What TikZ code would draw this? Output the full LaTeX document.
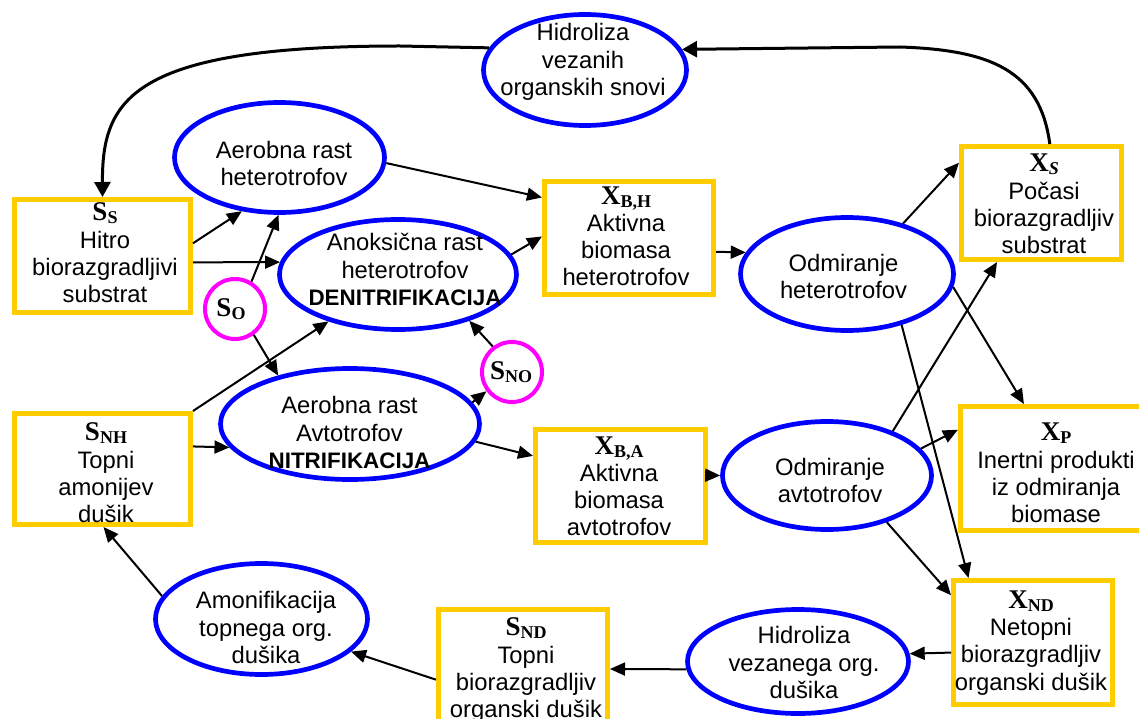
\documentclass[tikz,border=0pt]{standalone}
\usepackage{fontspec}
\setmainfont{Liberation Sans}
\newfontfamily\tmsfont{Liberation Serif}
\usetikzlibrary{arrows.meta,shapes.geometric}
\definecolor{ellblue}{RGB}{0,0,255}
\definecolor{boxgold}{RGB}{255,204,0}
\definecolor{circmag}{RGB}{255,0,255}
\newcommand{\lbl}[2]{{\tmsfont\bfseries\fontsize{27}{27.3}\selectfont #1\raisebox{-3pt}{\fontsize{18}{18}\selectfont #2}}}
\newcommand{\bld}[1]{{\bfseries\fontsize{22.4}{27.3}\selectfont #1}}
\tikzset{
  ell/.style={draw=ellblue, line width=4.7pt, ellipse, fill=white, inner sep=0pt},
  box/.style={draw=boxgold, line width=5pt, rectangle, fill=white, inner sep=0pt},
  circ/.style={draw=circmag, line width=4pt, circle, fill=white, inner sep=0pt, minimum size=60pt},
  txt/.style={inner sep=0pt, align=center, font=\fontsize{23.8}{27.3}\selectfont},
  arr/.style={-{Triangle[length=15pt,width=13pt]}, line width=2pt},
  curv/.style={-{Triangle[length=15pt,width=16pt]}, line width=3pt},
}
\begin{document}
\begin{tikzpicture}[x=1pt,y=-1pt]
\useasboundingbox (0,0) rectangle (1139,719);
\clip (0,0) rectangle (1139,719);
% ellipses
\node[ell, minimum width=203pt, minimum height=111pt] (hv) at (585,70) {};
\node[ell, minimum width=210pt, minimum height=110pt] (ah) at (279.5,157.5) {};
\node[ell, minimum width=237pt, minimum height=110pt] (an) at (398,274.5) {};
\node[ell, minimum width=259pt, minimum height=111pt] (aa) at (350,424) {};
\node[ell, minimum width=213pt, minimum height=113pt] (oh) at (847,274) {};
\node[ell, minimum width=209pt, minimum height=108pt] (oa) at (827,475.5) {};
\node[ell, minimum width=221pt, minimum height=104pt] (hg) at (798,661.5) {};
\node[ell, minimum width=212pt, minimum height=111pt] (am) at (261.5,619) {};
% boxes
\node[box, minimum width=176pt, minimum height=113pt] (ss) at (102.5,256) {};
\node[box, minimum width=176pt, minimum height=111pt] (snh) at (102.5,469) {};
\node[box, minimum width=169pt, minimum height=113pt] (xbh) at (629,238) {};
\node[box, minimum width=170pt, minimum height=113pt] (xba) at (620.5,486) {};
\node[box, minimum width=160pt, minimum height=113pt] (xs) at (1041.5,203) {};
\node[box, minimum width=187pt, minimum height=124pt] (xp) at (1054,468.5) {};
\node[box, minimum width=159pt, minimum height=124pt] (xnd) at (1033,642.5) {};
\node[box, minimum width=169pt, minimum height=119pt] (snd) at (523,669) {};
% circles
\node[circ] (so) at (235,309) {};
\node[circ] (sno) at (512,372) {};
% texts in ellipses
\node[txt] (thv) at (583,62.8) {\strut Hidroliza\\\strut vezanih\\\strut organskih snovi};
\node[txt] (tah) at (284,166.2) {\strut Aerobna rast\\\strut heterotrofov};
\node[txt] (tan) at (405,272.8) {\strut Anoksična rast\\\strut heterotrofov\\\strut\bld{DENITRIFIKACIJA}};
\node[txt] (taa) at (349.5,435.8) {\strut Aerobna rast\\\strut Avtotrofov\\\strut\bld{NITRIFIKACIJA}};
\node[txt] (toh) at (843.5,279.2) {\strut Odmiranje\\\strut heterotrofov};
\node[txt] (toa) at (830,483.2) {\strut Odmiranje\\\strut avtotrofov};
\node[txt] (thg) at (804,665.8) {\strut Hidroliza\\\strut vezanega org.\\\strut dušika};
\node[txt] (tam) at (266,630.8) {\strut Amonifikacija\\\strut topnega org.\\\strut dušika};
% texts in boxes
\node[txt] (tss) at (105,256.2) {\strut\lbl{S}{S}\\\strut Hitro\\\strut biorazgradljivi\\\strut substrat};
\node[txt] (tsnh) at (106,476.2) {\strut\lbl{S}{NH}\\\strut Topni\\\strut amonijev\\\strut dušik};
\node[txt] (txbh) at (626,239.5) {\strut\lbl{X}{B,H}\\\strut Aktivna\\\strut biomasa\\\strut heterotrofov};
\node[txt] (txba) at (619,489.5) {\strut\lbl{X}{B,A}\\\strut Aktivna\\\strut biomasa\\\strut avtotrofov};
\node[txt] (txs) at (1044,207.2) {\strut\lbl{X}{\itshape S}\\\strut Počasi\\\strut biorazgradljiv\\\strut substrat};
\node[txt] (txp) at (1056,476.2) {\strut\lbl{X}{P}\\\strut Inertni produkti\\\strut iz odmiranja\\\strut biomase};
\node[txt] (txnd) at (1031,643.8) {\strut\lbl{X}{ND}\\\strut Netopni\\\strut biorazgradljiv\\\strut organski dušik};
\node[txt] (tsnd) at (526,671.2) {\strut\lbl{S}{ND}\\\strut Topni\\\strut biorazgradljiv\\\strut organski dušik};
% circle labels
\node[inner sep=0pt, anchor=base] (tso) at (231,316) {\lbl{S}{O}};
\node[inner sep=0pt, anchor=base] (tsno) at (511,379) {\lbl{S}{NO}};
% curved connectors
\coordinate (k1) at (400,46);
\coordinate (k2) at (900,47);
\draw[curv] (hv.167) -- (k1) .. controls (130,46) and (102,100) .. (ss.north);
\draw[curv] (xs.82) .. controls (1040,70) and (990,50) .. (k2) -- (hv.12);
% straight connectors
\draw[arr] (ss.8) -- (ah.-125.5);
\draw[arr] (ss.-4) -- (an.174.7);
\draw[arr] (so.59) -- (ah.-91.4);
\draw[arr] (so.-54.5) -- (aa.146.9);
\draw[arr] (snh.north east) -- (an.-146.6);
\draw[arr] (snh.14) -- (aa.-169);
\draw[arr] (an.10.7) -- (xbh.179.3);
\draw[arr] (ah.-3) -- (xbh.155.7);
\draw[arr] (xbh.-9.8) -- (oh.168);
\draw[arr] (oh.42.1) -- (xs.154.7);
\draw[arr] (oa.34.8) -- (xs.-127);
\draw[arr] (oh.-43.3) -- (xnd.135.6);
\draw[arr] (oh.-7.6) -- (xp.115.7);
\draw[arr] (oa.16.1) -- (xp.158.7);
\draw[arr] (oa.-38.8) -- (xnd.150.7);
\draw[arr] (xnd.-173.4) -- (hg.4.9);
\draw[arr] (hg.-176.2) -- (snd.0);
\draw[arr] (snd.-173.4) -- (am.-20);
\draw[arr] (am.167.2) -- (snh.-89.5);
\draw[arr] (aa.10.6) -- (sno.-143);
\draw[arr] (sno.127.7) -- (an.-33.4);
\draw[arr] (aa.-8.6) -- (xba.161);
\draw[arr] (xba.7.2) -- (oa.180);
\end{tikzpicture}
\end{document}
